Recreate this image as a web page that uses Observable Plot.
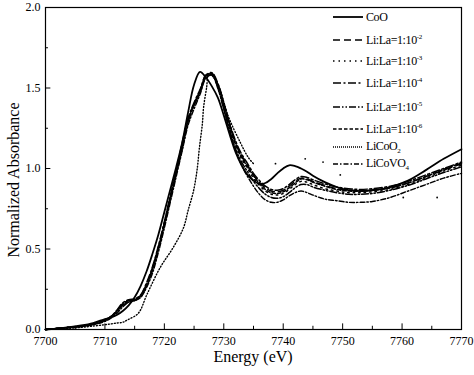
<!DOCTYPE html>
<html>
<head>
<meta charset="utf-8">
<script src="https://cdn.jsdelivr.net/npm/d3@7"></script>
<script src="https://cdn.jsdelivr.net/npm/@observablehq/plot@0.6"></script>
<style>
  body { margin: 0; background: #fff; }
  #wrap { position: relative; width: 474px; height: 375px; font-family: "Liberation Serif", "Times New Roman", Times, "Nimbus Roman", "DejaVu Serif", serif; color: #000; }
  #wrap svg { display: block; }
  #wrap svg text { font-family: "Liberation Serif", "Times New Roman", Times, "Nimbus Roman", "DejaVu Serif", serif; }
  .lab { position: absolute; white-space: nowrap; font-size: 16px; }
  #legend { position: absolute; left: 333px; top: 0; }
  .row { position: absolute; left: 0; height: 14px; display: flex; align-items: center; white-space: nowrap; font-size: 12px; letter-spacing: -0.4px; }
  .row svg { margin-right: 3px; }
  sup { font-size: 7px; vertical-align: 5px; }
  sub { font-size: 7px; vertical-align: -3px; }
</style>
</head>
<body>
<div id="wrap"></div>
<script>
// ---- data ----
const energy = [7700,7703,7706,7708,7710,7711,7712,7713,7714,7715,7716,7717,7718,7719,7720,7721,7722,7723,7724,7725,7726,7727,7728,7729,7730,7731,7732,7733,7734,7735,7736,7737,7738,7739,7740,7741,7742,7743,7744,7745,7747,7749,7751,7753,7755,7758,7761,7764,7767,7770];
const coO = [0.00,0.01,0.025,0.04,0.065,0.075,0.09,0.115,0.15,0.20,0.27,0.36,0.47,0.59,0.73,0.87,1.01,1.16,1.35,1.52,1.60,1.565,1.51,1.44,1.33,1.21,1.10,1.02,0.96,0.925,0.905,0.91,0.935,0.97,1.00,1.02,1.015,1.00,0.98,0.955,0.915,0.885,0.865,0.86,0.865,0.885,0.925,0.99,1.06,1.12];
const liLa2 = [0.00,0.01,0.02,0.035,0.06,0.08,0.115,0.16,0.18,0.185,0.21,0.28,0.38,0.51,0.66,0.82,0.98,1.16,1.31,1.40,1.48,1.58,1.59,1.52,1.40,1.27,1.16,1.08,1.02,0.96,0.915,0.88,0.86,0.855,0.865,0.89,0.92,0.94,0.935,0.92,0.895,0.875,0.865,0.86,0.865,0.88,0.91,0.95,0.99,1.03];
const liLa3 = [0.00,0.01,0.02,0.035,0.055,0.075,0.11,0.155,0.175,0.18,0.205,0.27,0.37,0.50,0.65,0.81,0.97,1.13,1.30,1.40,1.48,1.575,1.585,1.51,1.38,1.25,1.14,1.06,1.00,0.94,0.895,0.86,0.84,0.835,0.845,0.87,0.90,0.92,0.915,0.90,0.875,0.86,0.85,0.85,0.855,0.87,0.90,0.94,0.985,1.02];
const liLa4 = [0.00,0.01,0.02,0.035,0.06,0.08,0.12,0.165,0.185,0.19,0.215,0.29,0.39,0.52,0.67,0.83,0.99,1.15,1.31,1.41,1.49,1.58,1.595,1.53,1.41,1.28,1.17,1.09,1.03,0.97,0.925,0.89,0.87,0.865,0.875,0.90,0.93,0.95,0.945,0.93,0.905,0.885,0.875,0.87,0.875,0.89,0.92,0.96,1.00,1.04];
const liLa5 = [0.00,0.01,0.02,0.03,0.055,0.075,0.11,0.15,0.17,0.18,0.20,0.27,0.37,0.50,0.65,0.81,0.97,1.12,1.29,1.39,1.47,1.57,1.58,1.50,1.37,1.24,1.12,1.04,0.98,0.92,0.875,0.84,0.82,0.815,0.825,0.85,0.88,0.90,0.90,0.885,0.865,0.85,0.84,0.84,0.845,0.865,0.895,0.935,0.975,1.01];
const liLa6 = [0.00,0.01,0.02,0.035,0.06,0.08,0.115,0.16,0.18,0.185,0.21,0.28,0.38,0.51,0.66,0.82,0.98,1.14,1.30,1.40,1.48,1.575,1.59,1.52,1.40,1.27,1.15,1.07,1.01,0.955,0.905,0.87,0.85,0.845,0.855,0.88,0.91,0.935,0.93,0.915,0.89,0.87,0.86,0.86,0.865,0.88,0.91,0.95,0.995,1.035];
const liCoVO4 = [0.00,0.01,0.02,0.03,0.05,0.07,0.10,0.14,0.17,0.18,0.20,0.26,0.35,0.48,0.63,0.79,0.95,1.11,1.27,1.37,1.46,1.56,1.58,1.50,1.37,1.23,1.11,1.02,0.95,0.89,0.84,0.805,0.79,0.79,0.805,0.83,0.85,0.86,0.85,0.835,0.81,0.80,0.79,0.79,0.795,0.82,0.86,0.90,0.94,0.97];
const liCoO2Energy = [7700,7705,7710,7712,7713,7713.8,7715.6,7717.1,7719.3,7721.5,7723.2,7724,7724.9,7725.5,7725.9,7726.4,7726.6,7727.1,7727.5,7728.9,7730.8,7732.8,7734.1,7735];
const liCoO2 = [0,0.01,0.03,0.04,0.045,0.06,0.10,0.22,0.385,0.51,0.63,0.74,0.86,0.99,1.13,1.28,1.38,1.50,1.59,1.53,1.32,1.16,1.07,1.03];
const liCoO2ScatterEnergy = [7738.7,7743.7,7746.7,7749.6,7760.2,7765.9];
const liCoO2Scatter = [1.03,1.06,1.04,0.96,0.82,0.82];
const xTicksMajor = [7700,7710,7720,7730,7740,7750,7760,7770];
const xTicksMinor = [7705,7715,7725,7735,7745,7755,7765];
const yTicksMajor = [0.0,0.5,1.0,1.5,2.0];
const yTicksMinor = [0.25,0.75,1.25,1.75];
const legendLabels = ["CoO","Li:La=1:10<sup>-2</sup>","Li:La=1:10<sup>-3</sup>","Li:La=1:10<sup>-4</sup>","Li:La=1:10<sup>-5</sup>","Li:La=1:10<sup>-6</sup>","LiCoO<sub>2</sub>","LiCoVO<sub>4</sub>"];
const xLabel = "Energy (eV)";
const yLabel = "Normalized Absorbance";

// ---- styles ----
const serif = '"Liberation Serif", "Times New Roman", Times, "Nimbus Roman", "DejaVu Serif", serif';
const series = [
  {values: coO, dash: null, w: 1.8},
  {values: liLa2, dash: "7,4", w: 1.5},
  {values: liLa3, dash: "1.5,4", w: 1.5},
  {values: liLa4, dash: "8,2.5,2,2.5", w: 1.5},
  {values: liLa5, dash: "7,2,1.5,2,1.5,2", w: 1.5},
  {values: liLa6, dash: "3.5,2", w: 1.5},
  {values: liCoVO4, dash: "5,2,1.5,2", w: 1.4}
];
const legendDash = [null,"7,4","1.5,4","8,2.5,2,2.5","7,2,1.5,2,1.5,2","3.5,2","1,1","5,2,1.5,2"];
const legendTop = [10,33,54,76,100,122,140,157];

const lineMarks = series.map(s => Plot.line(energy.map((e, i) => ({e, v: s.values[i]})), {
  x: "e", y: "v", curve: "catmull-rom", stroke: "black", strokeWidth: s.w,
  strokeDasharray: s.dash || undefined
}));

const chart = Plot.plot({
  width: 474, height: 375,
  marginTop: 7, marginRight: 13, marginBottom: 46, marginLeft: 45,
  style: {fontFamily: serif, fontSize: "12px", color: "black", background: "white"},
  x: {domain: [7700, 7770]},
  y: {domain: [0, 2]},
  marks: [
    ...lineMarks,
    Plot.line(liCoO2Energy.map((e, i) => ({e, v: liCoO2[i]})), {x: "e", y: "v", curve: "catmull-rom", stroke: "black", strokeWidth: 1.4, strokeDasharray: "1,2"}),
    Plot.dot(liCoO2ScatterEnergy.map((e, i) => ({e, v: liCoO2Scatter[i]})), {x: "e", y: "v", r: 0.9, fill: "black", stroke: "none"}),
    Plot.ruleX(xTicksMajor, {x: d => d, y1: 0, y2: 0.035, stroke: "black", strokeWidth: 1}),
    Plot.ruleX(xTicksMinor, {x: d => d, y1: 0, y2: 0.02, stroke: "black", strokeWidth: 1}),
    Plot.ruleY(yTicksMajor, {y: d => d, x1: 7700, x2: 7700.9, stroke: "black", strokeWidth: 1}),
    Plot.ruleY(yTicksMinor, {y: d => d, x1: 7700, x2: 7700.5, stroke: "black", strokeWidth: 1}),
    Plot.axisX({ticks: xTicksMajor, tickSize: 0, tickPadding: 7, tickFormat: d => String(d), label: null, fontSize: 12, fontFamily: serif}),
    Plot.axisY({ticks: yTicksMajor, tickSize: 0, tickPadding: 5, tickFormat: d3.format(".1f"), label: null, fontSize: 12, fontFamily: serif}),
    Plot.frame({stroke: "black", strokeWidth: 1.2})
  ]
});

const wrap = document.getElementById("wrap");
wrap.appendChild(chart);

const xl = document.createElement("div");
xl.className = "lab";
xl.textContent = xLabel;
xl.style.left = "253px"; xl.style.top = "357px";
xl.style.transform = "translate(-50%, -50%)";
wrap.appendChild(xl);

const yl = document.createElement("div");
yl.className = "lab";
yl.textContent = yLabel;
yl.style.left = "14px"; yl.style.top = "180px";
yl.style.transform = "translate(-50%, -50%) rotate(-90deg)";
wrap.appendChild(yl);

const legend = document.createElement("div");
legend.id = "legend";
legendLabels.forEach((lab, i) => {
  const row = document.createElement("div");
  row.className = "row";
  row.style.top = legendTop[i] + "px";
  const d = legendDash[i];
  row.innerHTML = `<svg width="30" height="6"><line x1="0" y1="3" x2="30" y2="3" stroke="black" stroke-width="${i === 0 ? 1.8 : 1.5}" ${d ? `stroke-dasharray="${d}"` : ""}/></svg><span>${lab}</span>`;
  legend.appendChild(row);
});
wrap.appendChild(legend);
</script>
</body>
</html>
